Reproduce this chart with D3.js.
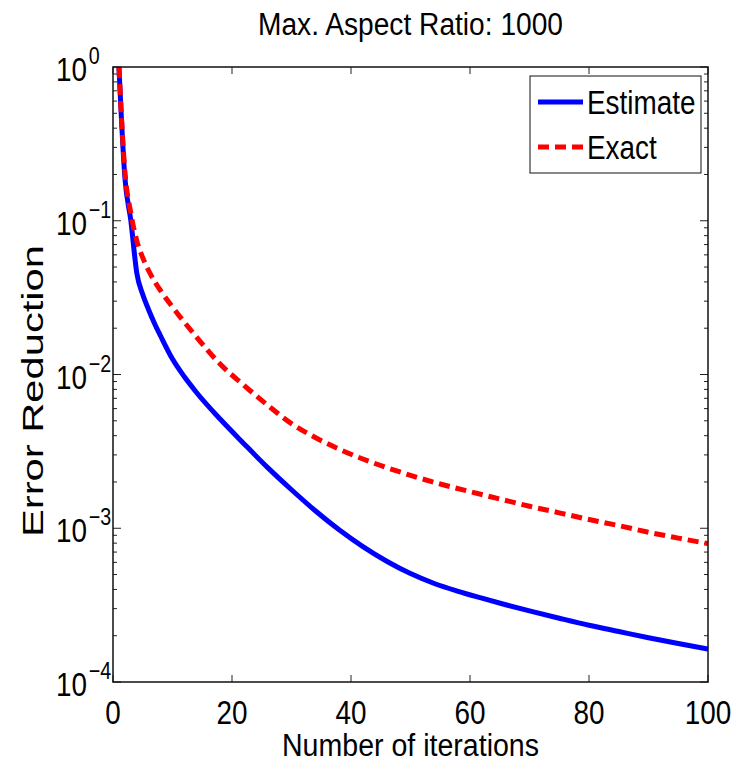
<!DOCTYPE html>
<html>
<head>
<meta charset="utf-8">
<script src="https://cdn.jsdelivr.net/npm/d3@7"></script>
<style>
  body { margin: 0; background: #fff; }
  text { font-family: "Liberation Sans Narrow", "Liberation Sans", Arial, sans-serif; }
</style>
</head>
<body>
<script>
const iterEstimate = [1, 2, 3, 4, 5, 6, 7, 8, 10, 12, 14, 18, 22, 26, 30, 34, 38, 42, 46, 50, 54, 58, 62, 66, 70, 75, 80, 85, 90, 95, 100];
const estimate = [1, 0.19, 0.1, 0.0457, 0.0331, 0.0263, 0.0214, 0.0178, 0.0126, 0.00966, 0.00767, 0.00513, 0.00355,
  0.00248, 0.00178, 0.0013, 0.000977, 0.000759, 0.00061, 0.000507, 0.000437, 0.000389, 0.000351, 0.000318,
  0.00029, 0.00026, 0.000234, 0.000213, 0.000194, 0.000178, 0.000164];

const iterExact = [1, 2, 3, 4, 5, 6, 7, 8, 10, 14, 18, 22, 26, 30, 34, 38, 42, 46, 50, 55, 60, 65, 70, 75, 80, 85, 90, 95, 100];
const exact = [1, 0.209, 0.112, 0.0741, 0.0575, 0.0473, 0.0403, 0.0351, 0.0275, 0.0176, 0.0117, 0.00851, 0.00631,
  0.00479, 0.00389, 0.00327, 0.00282, 0.00248, 0.00221, 0.00194, 0.00173, 0.00155, 0.00139, 0.00126, 0.00114,
  0.00104, 0.000942, 0.000863, 0.000794];

const xTicks = [0, 20, 40, 60, 80, 100];
const yExponents = [0, -1, -2, -3, -4];
const seriesNames = ["Estimate", "Exact"];

const width = 738, height = 765;
const margin = { left: 113, right: 30, top: 67, bottom: 83 };
const squeeze = 0.82; // no narrow font installed, so squash the regular one

const svg = d3.select("body").append("svg")
  .attr("width", width)
  .attr("height", height);

const x = d3.scaleLinear().domain([0, 100]).range([margin.left, width - margin.right]);
const y = d3.scaleLog().domain([1e-4, 1]).range([height - margin.bottom, margin.top]);

const x0 = x.range()[0], x1 = x.range()[1];
const y0 = y.range()[0], y1 = y.range()[1];

// ticks, inward on all four sides
const tickG = svg.append("g").attr("stroke", "#222").attr("stroke-width", 1);
xTicks.forEach(t => {
  tickG.append("line").attr("x1", x(t)).attr("x2", x(t)).attr("y1", y0).attr("y2", y0 - 7);
  tickG.append("line").attr("x1", x(t)).attr("x2", x(t)).attr("y1", y1).attr("y2", y1 + 7);
});
y.ticks().forEach(v => {
  const major = Math.abs(Math.log10(v) - Math.round(Math.log10(v))) < 1e-9;
  const len = major ? 8 : 4;
  tickG.append("line").attr("x1", x0).attr("x2", x0 + len).attr("y1", y(v)).attr("y2", y(v));
  tickG.append("line").attr("x1", x1).attr("x2", x1 - len).attr("y1", y(v)).attr("y2", y(v));
});

// x tick labels
svg.append("g")
  .selectAll("text")
  .data(xTicks)
  .join("text")
  .attr("transform", d => `translate(${x(d)}, 724) scale(${squeeze}, 1)`)
  .attr("text-anchor", "middle")
  .attr("font-size", 34)
  .text(d => d);

// y tick labels 10^k, base "10" starts at the same x for all
const yl = svg.append("g")
  .selectAll("text")
  .data(yExponents)
  .join("text")
  .attr("transform", d => `translate(56, ${y(Math.pow(10, d)) + 14}) scale(${squeeze}, 1)`)
  .attr("font-size", 34);
yl.append("tspan").text("10");
yl.append("tspan")
  .attr("font-size", 24)
  .attr("dx", 2)
  .attr("dy", -17)
  .text(d => d === 0 ? "0" : "\u2212" + Math.abs(d));

// lines
const line = d3.line()
  .x(d => x(d[0]))
  .y(d => y(d[1]))
  .curve(d3.curveMonotoneX);

const plot = svg.append("g");
plot.append("path")
  .datum(d3.zip(iterEstimate, estimate))
  .attr("fill", "none")
  .attr("stroke", "#0000ff")
  .attr("stroke-width", 5)
  .attr("d", line);

plot.append("path")
  .datum(d3.zip(iterExact, exact))
  .attr("fill", "none")
  .attr("stroke", "#ff0000")
  .attr("stroke-width", 5)
  .attr("stroke-dasharray", "11,6")
  .attr("d", line);

// axes box
svg.append("rect")
  .attr("x", x0).attr("y", y1)
  .attr("width", x1 - x0).attr("height", y0 - y1)
  .attr("fill", "none")
  .attr("stroke", "#111")
  .attr("stroke-width", 1.5);

// legend
const legend = svg.append("g");
legend.append("rect")
  .attr("x", 530).attr("y", 76)
  .attr("width", 171).attr("height", 97)
  .attr("fill", "#fff")
  .attr("stroke", "#111")
  .attr("stroke-width", 1);

const legendRows = legend.selectAll("g.row")
  .data(seriesNames)
  .join("g")
  .attr("class", "row")
  .attr("transform", (d, i) => `translate(0, ${102 + i * 45})`);

legendRows.append("line")
  .attr("x1", 538).attr("x2", 583)
  .attr("stroke", (d, i) => i === 0 ? "#0000ff" : "#ff0000")
  .attr("stroke-width", 5)
  .attr("stroke-dasharray", (d, i) => i === 0 ? null : "11,6");

legendRows.append("text")
  .attr("transform", `translate(587, 12) scale(${squeeze}, 1)`)
  .attr("font-size", 34)
  .text(d => d);

// title + axis labels
svg.append("text")
  .attr("x", (x0 + x1) / 2)
  .attr("y", 35)
  .attr("text-anchor", "middle")
  .attr("font-size", 31)
  .attr("textLength", 305)
  .attr("lengthAdjust", "spacingAndGlyphs")
  .text("Max. Aspect Ratio: 1000");

svg.append("text")
  .attr("x", (x0 + x1) / 2)
  .attr("y", 756)
  .attr("text-anchor", "middle")
  .attr("font-size", 31)
  .attr("textLength", 257)
  .attr("lengthAdjust", "spacingAndGlyphs")
  .text("Number of iterations");

svg.append("text")
  .attr("transform", `translate(43, ${391}) rotate(-90)`)
  .attr("text-anchor", "middle")
  .attr("font-size", 30)
  .attr("textLength", 292)
  .attr("lengthAdjust", "spacingAndGlyphs")
  .text("Error Reduction");
</script>
</body>
</html>
